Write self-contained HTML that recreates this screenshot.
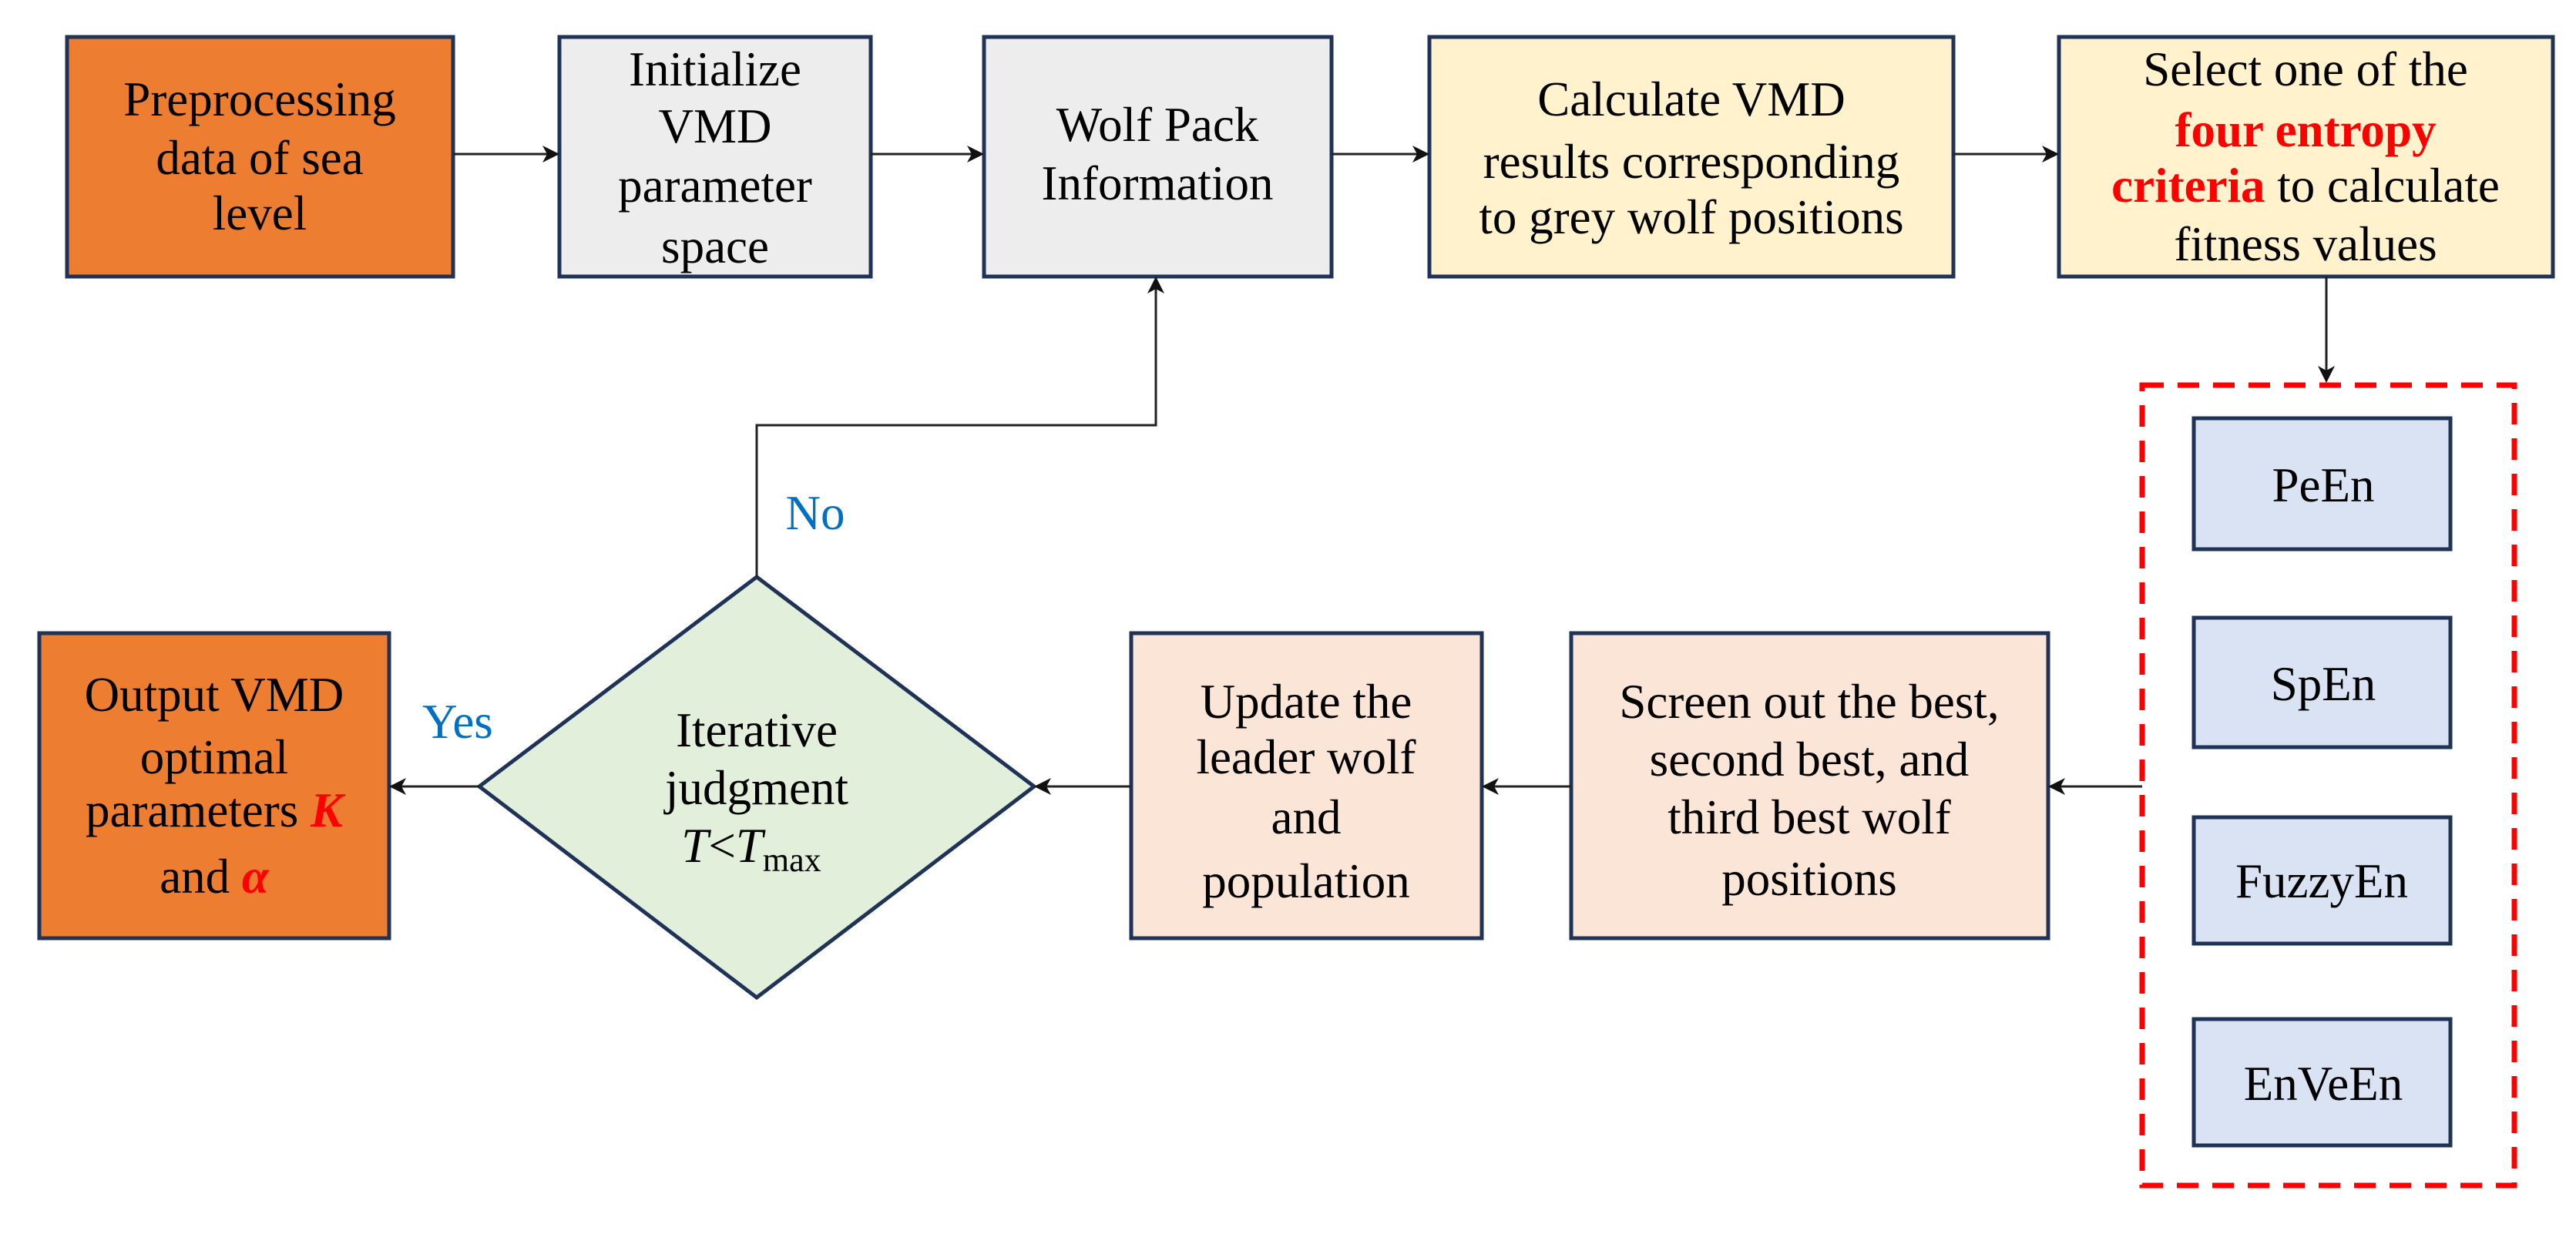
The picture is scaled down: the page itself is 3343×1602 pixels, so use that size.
<!DOCTYPE html>
<html><head><meta charset="utf-8"><style>body{margin:0;background:#fff}svg{display:block}</style></head>
<body>
<svg width="3343" height="1602" viewBox="0 0 3343 1602" xmlns="http://www.w3.org/2000/svg" font-family="'Liberation Serif', serif" font-size="63" text-anchor="middle">
<g stroke="#1f3258" stroke-width="5">
<rect x="87" y="48" width="501" height="311" fill="#ED7D31"/>
<rect x="726" y="48" width="404" height="311" fill="#EDEDED"/>
<rect x="1277" y="48" width="451" height="311" fill="#EDEDED"/>
<rect x="1855" y="48" width="680" height="311" fill="#FFF2CC"/>
<rect x="2672" y="48" width="641" height="311" fill="#FFF2CC"/>
<rect x="2847" y="543" width="333" height="170" fill="#DAE3F3"/>
<rect x="2847" y="802" width="333" height="168" fill="#DAE3F3"/>
<rect x="2847" y="1061" width="333" height="164" fill="#DAE3F3"/>
<rect x="2847" y="1323" width="333" height="164" fill="#DAE3F3"/>
<rect x="2039" y="822" width="619" height="396" fill="#FBE5D6"/>
<rect x="1468" y="822" width="455" height="396" fill="#FBE5D6"/>
<rect x="51" y="822" width="454" height="396" fill="#ED7D31"/>
<polygon points="982,749 1342,1021 982,1295 622,1021" fill="#E2EFDA"/>
</g>
<rect x="2780" y="500" width="483" height="1039" fill="none" stroke="#FF0000" stroke-width="7" stroke-dasharray="28,18"/>
<g stroke="#222" stroke-width="3" fill="none">
<line x1="588" y1="200" x2="712" y2="200"/>
<line x1="1130" y1="200" x2="1263" y2="200"/>
<line x1="1728" y1="200" x2="1841" y2="200"/>
<line x1="2535" y1="200" x2="2658" y2="200"/>
<line x1="3019" y1="359" x2="3019" y2="485"/>
<polyline points="982,749 982,552 1500,552 1500,373"/>
<line x1="2780" y1="1021" x2="2672" y2="1021"/>
<line x1="2039" y1="1021" x2="1937" y2="1021"/>
<line x1="1468" y1="1021" x2="1356" y2="1021"/>
<line x1="622" y1="1021" x2="519" y2="1021"/>
</g>
<g fill="#111">
<polygon points="726,200 704,189 710,200 704,211"/>
<polygon points="1277,200 1255,189 1261,200 1255,211"/>
<polygon points="1855,200 1833,189 1839,200 1833,211"/>
<polygon points="2672,200 2650,189 2656,200 2650,211"/>
<polygon points="3019,497 3008,475 3019,481 3030,475"/>
<polygon points="1500,359 1489,381 1500,375 1511,381"/>
<polygon points="2658,1021 2680,1010 2674,1021 2680,1032"/>
<polygon points="1923,1021 1945,1010 1939,1021 1945,1032"/>
<polygon points="1342,1021 1364,1010 1358,1021 1364,1032"/>
<polygon points="505,1021 527,1010 521,1021 527,1032"/>
</g>
<g fill="#000">
<text x="337" y="150">Preprocessing</text><text x="337" y="226">data of sea</text><text x="337" y="298">level</text>
<text x="928" y="111">Initialize</text><text x="928" y="185">VMD</text><text x="928" y="262">parameter</text><text x="928" y="341">space</text>
<text x="1502" y="183">Wolf Pack</text><text x="1502" y="259">Information</text>
<text x="2195" y="150">Calculate VMD</text><text x="2195" y="231">results corresponding</text><text x="2195" y="303">to grey wolf positions</text>
<text x="2992" y="111">Select one of the</text>
<text x="2992" y="190" fill="#FF0000" font-weight="bold">four entropy</text>
<text x="2992" y="262"><tspan fill="#FF0000" font-weight="bold">criteria</tspan> to calculate</text>
<text x="2992" y="338">fitness values</text>
<text x="3015" y="651">PeEn</text><text x="3015" y="909">SpEn</text><text x="3013" y="1165">FuzzyEn</text><text x="3015" y="1428">EnVeEn</text>
<text x="2348" y="932">Screen out the best,</text><text x="2348" y="1007">second best, and</text><text x="2348" y="1082">third best wolf</text><text x="2348" y="1162">positions</text>
<text x="1695" y="932">Update the</text><text x="1695" y="1004">leader wolf</text><text x="1695" y="1082">and</text><text x="1695" y="1165">population</text>
<text x="982" y="969">Iterative</text><text x="982" y="1044">judgment</text>
<text x="975" y="1119"><tspan font-style="italic">T</tspan>&lt;<tspan font-style="italic">T</tspan><tspan font-size="44" dy="12">max</tspan></text>
<text x="278" y="923">Output VMD</text><text x="278" y="1004">optimal</text>
<text x="278" y="1073">parameters <tspan fill="#FF0000" font-style="italic" font-weight="bold">K</tspan></text>
<text x="278" y="1159">and <tspan fill="#FF0000" font-style="italic" font-weight="bold">α</tspan></text>
</g>
<g fill="#0070C0">
<text x="1058" y="687">No</text>
<text x="594" y="958">Yes</text>
</g>
</svg>
</body></html>
